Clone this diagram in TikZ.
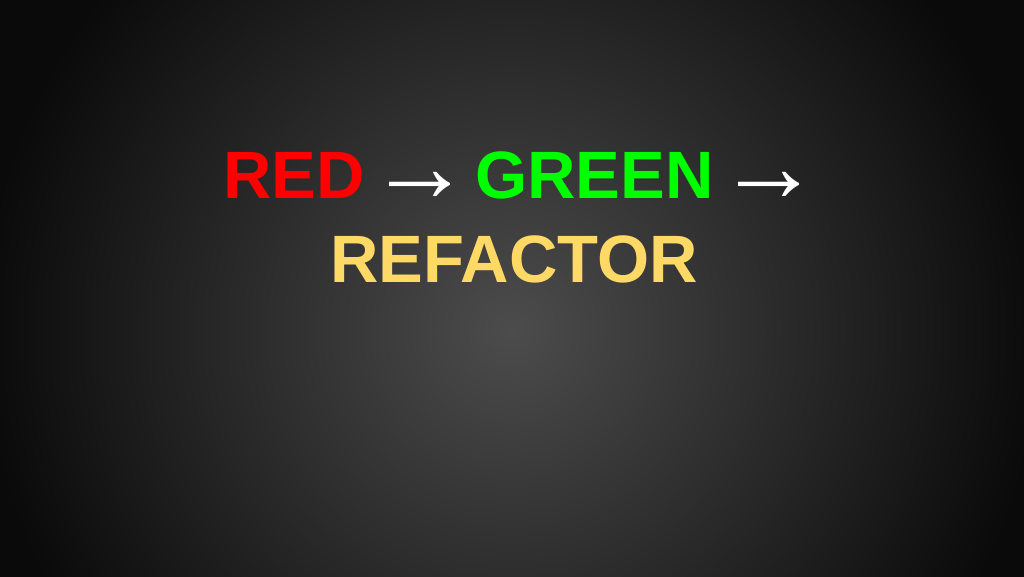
\documentclass[tikz,border=0pt]{standalone}
\usepackage{fontspec}
\setmainfont{Liberation Sans}
\newfontfamily\arrowfont{Liberation Serif}
\definecolor{bgin}{HTML}{4C4C4C}
\definecolor{bgout}{HTML}{0A0A0A}
\definecolor{tddred}{HTML}{FF0000}
\definecolor{tddgreen}{HTML}{00FF00}
\definecolor{tddyellow}{HTML}{FFD966}
\tikzset{
  word/.style={anchor=base, inner sep=0pt, font=\fontsize{67}{80}\selectfont\bfseries},
  arrowglyph/.style={anchor=base, inner sep=0pt, text=white, font=\fontsize{103}{120}\selectfont\arrowfont}
}
\begin{document}
\begin{tikzpicture}[x=1pt,y=-1pt]
  \useasboundingbox (0,0) rectangle (1024,576);
  \begin{scope}
    \clip (0,0) rectangle (1024,576);
    \shade[inner color=bgin, outer color=bgout] (-18,-200) rectangle (1042,860);
  \end{scope}
  \node[word, text=tddred] (red) at (294,198) {RED};
  \node[arrowglyph] (arrA) at (419.5,201) {→};
  \node[word, text=tddgreen] (green) at (594.5,198) {GREEN};
  \node[arrowglyph] (arrB) at (768.5,201) {→};
  \node[word, text=tddyellow] (refactor) at (514,282) {REFACTOR};
\end{tikzpicture}
\end{document}
